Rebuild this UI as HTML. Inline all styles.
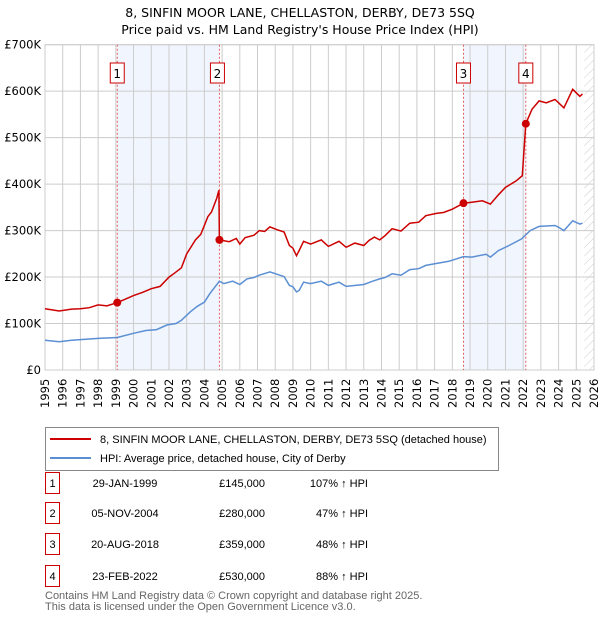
<!DOCTYPE html>
<html><head><meta charset="utf-8"><style>
body{margin:0;background:#fff;font-family:"DejaVu Sans","Liberation Sans",sans-serif;}
#wrap{position:relative;width:600px;height:620px;overflow:hidden;}
</style></head><body>
<div id="wrap">
<svg id="c" width="600" height="620" style="position:absolute;left:0;top:0"></svg>
</div>
<script>
const years=[1995,1996,1997,1998,1999,2000,2001,2002,2003,2004,2005,2006,2007,2008,2009,2010,2011,2012,2013,2014,2015,2016,2017,2018,2019,2020,2021,2022,2023,2024,2025,2026];
const yTicks=[0,100,200,300,400,500,600,700];
const yTickLabels=["£0","£100K","£200K","£300K","£400K","£500K","£600K","£700K"];
const redT=[1995,1995.8,1996.5,1997,1997.5,1998,1998.5,1999.08,1999.5,2000,2000.5,2001,2001.5,2002,2002.3,2002.7,2003,2003.5,2003.8,2004.2,2004.4,2004.7,2004.82,2004.85,2005.4,2005.8,2006,2006.3,2006.8,2007.1,2007.4,2007.7,2008.1,2008.5,2008.8,2009,2009.2,2009.35,2009.6,2010,2010.6,2011,2011.6,2012,2012.5,2013,2013.3,2013.6,2013.9,2014.2,2014.6,2015.1,2015.6,2016.1,2016.5,2017.1,2017.5,2018,2018.63,2019.1,2019.7,2020.15,2020.6,2021,2021.6,2021.95,2022.15,2022.5,2022.9,2023.3,2023.8,2024.0,2024.3,2024.8,2025.2,2025.35];
const redV=[132,127,131,132,134,140,138,145,152,160,167,175,180,200,208,220,250,280,292,330,340,370,387,280,276,283,271,285,290,300,298,308,302,297,268,262,246,257,277,271,280,266,277,264,273,268,279,286,280,289,304,299,316,318,332,337,339,346,359,361,364,357,377,393,407,418,530,561,579,575,582,575,564,604,589,594];
const blueT=[1995,1995.8,1996.5,1997.3,1998,1999.08,2000,2000.7,2001.3,2001.9,2002.4,2002.7,2003.2,2003.6,2004,2004.3,2004.85,2005.1,2005.6,2006,2006.4,2006.8,2007.1,2007.7,2008.5,2008.8,2009,2009.2,2009.35,2009.6,2010,2010.6,2011,2011.6,2012,2013,2013.5,2013.9,2014.2,2014.6,2015.1,2015.6,2016.1,2016.5,2017.2,2017.8,2018.63,2019.1,2019.9,2020.15,2020.6,2021.2,2021.9,2022.4,2022.9,2023.8,2024.0,2024.3,2024.8,2025.2,2025.35];
const blueV=[64,61,64,66,68,70,79,85,87,97,100,107,125,137,146,164,191,186,191,184,196,199,204,211,201,182,179,168,171,189,186,191,182,189,180,184,191,196,199,207,204,216,218,225,230,234,244,243,249,243,257,268,282,300,309,311,307,300,321,314,316];
const saleT=[1999.08,2004.85,2018.63,2022.15];
const saleV=[145,280,359,530];
const saleLabels=["1","2","3","4"];
const saleDates=["29-JAN-1999","05-NOV-2004","20-AUG-2018","23-FEB-2022"];
const salePrices=["£145,000","£280,000","£359,000","£530,000"];
const saleHpi=["107% ↑ HPI","47% ↑ HPI","48% ↑ HPI","88% ↑ HPI"];

const L=45,R=594,T=44.7,B=370;
const FF='DejaVu Sans, Liberation Sans, sans-serif';
const xs=t=>L+(t-1995)*(R-L)/31;
const ys=v=>B-v*(B-T)/700;
const svg=document.getElementById('c');
const NS='http://www.w3.org/2000/svg';
function mk(tag,attrs,parent){const e=document.createElementNS(NS,tag);for(const k in attrs)e.setAttribute(k,attrs[k]);(parent||svg).appendChild(e);return e;}

const defs=mk('defs',{});
const pat=mk('pattern',{id:'h',width:6,height:6,patternUnits:'userSpaceOnUse',patternTransform:'rotate(45)'},defs);
mk('line',{x1:0,y1:0,x2:0,y2:6,stroke:'#ccc','stroke-width':1},pat);
let e;
e=mk('rect',{x:xs(2025.45),y:T,width:R-xs(2025.45),height:B-T,fill:'url(#h)'});


[[0,1],[2,3]].forEach(([a,b],i)=>{
  const r=mk('rect',{x:xs(saleT[a]),y:T,width:xs(saleT[b])-xs(saleT[a]),height:B-T,fill:'#eef3fc',opacity:0.8});
  
  
});
years.forEach(y=>{
  const g=mk('line',{x1:xs(y),x2:xs(y),y1:T,y2:B,stroke:'#cccccc','stroke-width':1});
  
  
  const tx=mk('text',{x:0,y:0,transform:`translate(${xs(y)+4},${B+38}) rotate(-90)`,'font-size':11.5,'font-family':FF});
  tx.textContent=y;
  
  
});
yTicks.forEach((v,i)=>{
  const g=mk('line',{x1:L,x2:R,y1:ys(v),y2:ys(v),stroke:'#cccccc','stroke-width':1});
  
  
  const tx=mk('text',{x:L-4,y:ys(v)+4,'text-anchor':'end','font-size':11.5,'font-family':FF});
  tx.textContent=yTickLabels[i];
  
  
});
e=mk('rect',{x:L,y:T,width:R-L,height:B-T,fill:'none',stroke:'#cccccc'});


saleT.forEach((t,i)=>{
  const l=mk('line',{x1:xs(t),x2:xs(t),y1:T,y2:B,stroke:'#e06060','stroke-dasharray':'2,2','stroke-width':1});
  
  
});
const pts=(ts,vs)=>ts.map((t,i)=>xs(t).toFixed(1)+','+ys(vs[i]).toFixed(1)).join(' ');
e=mk('polyline',{points:pts(blueT,blueV),fill:'none',stroke:'#5b8fd4','stroke-width':1.5});


e=mk('polyline',{points:pts(redT,redV),fill:'none',stroke:'#cc0000','stroke-width':1.5});


saleT.forEach((t,i)=>{
  const c=mk('circle',{cx:xs(t),cy:ys(saleV[i]),r:4,fill:'#cc0000'});
  
  
  const bx=xs(t)-7-(i==1?2:0);
  const g=mk('rect',{x:bx,y:63,width:14,height:20,fill:'#fff',stroke:'#cc0000'});
  
  
  const tx=mk('text',{x:bx+7,y:78,'text-anchor':'middle','font-size':12,'font-family':FF});
  tx.textContent=saleLabels[i];
  
  
});
[["8, SINFIN MOOR LANE, CHELLASTON, DERBY, DE73 5SQ",17],["Price paid vs. HM Land Registry's House Price Index (HPI)",34]].forEach((a,i)=>{
  const tx=mk('text',{x:300,y:a[1],'text-anchor':'middle','font-size':12.5,'font-family':FF});
  tx.textContent=a[0];
  
  
});
e=mk('rect',{x:45.5,y:427.5,width:453,height:43,fill:'#fff',stroke:'#888'});


[["#cc0000","8, SINFIN MOOR LANE, CHELLASTON, DERBY, DE73 5SQ (detached house)",443],["#5b8fd4","HPI: Average price, detached house, City of Derby",462]].forEach((a,i)=>{
  const l=mk('line',{x1:50,x2:91,y1:a[2]-4,y2:a[2]-4,stroke:a[0],'stroke-width':2});
  
  
  const tx=mk('text',{x:100,y:a[2],'font-size':11,'font-family':'Liberation Sans, sans-serif'});
  tx.textContent=a[1];
  
  
});
const rowY=[483,513,544,576];
saleLabels.forEach((s,i)=>{
  const y=rowY[i];
  const r=mk('rect',{x:45.5,y:y-10.5,width:14,height:21,fill:'#fff',stroke:'#cc0000'});
  
  
  const cells=[[s,52.5,'middle'],[saleDates[i],125,'middle'],[salePrices[i],265,'end'],[saleHpi[i],368,'end']];
  cells.forEach((c,j)=>{
    const tx=mk('text',{x:c[1],y:y+4,'text-anchor':c[2],'font-size':11,'font-family':'Liberation Sans, sans-serif'});
    tx.textContent=c[0];
    
    
  });
});
[["Contains HM Land Registry data © Crown copyright and database right 2025.",599],["This data is licensed under the Open Government Licence v3.0.",610]].forEach((a,i)=>{
  const tx=mk('text',{x:45,y:a[1],'font-size':11,fill:'#666','font-family':'Liberation Sans, sans-serif'});
  tx.textContent=a[0];
  
  
});
</script>
</body></html>
